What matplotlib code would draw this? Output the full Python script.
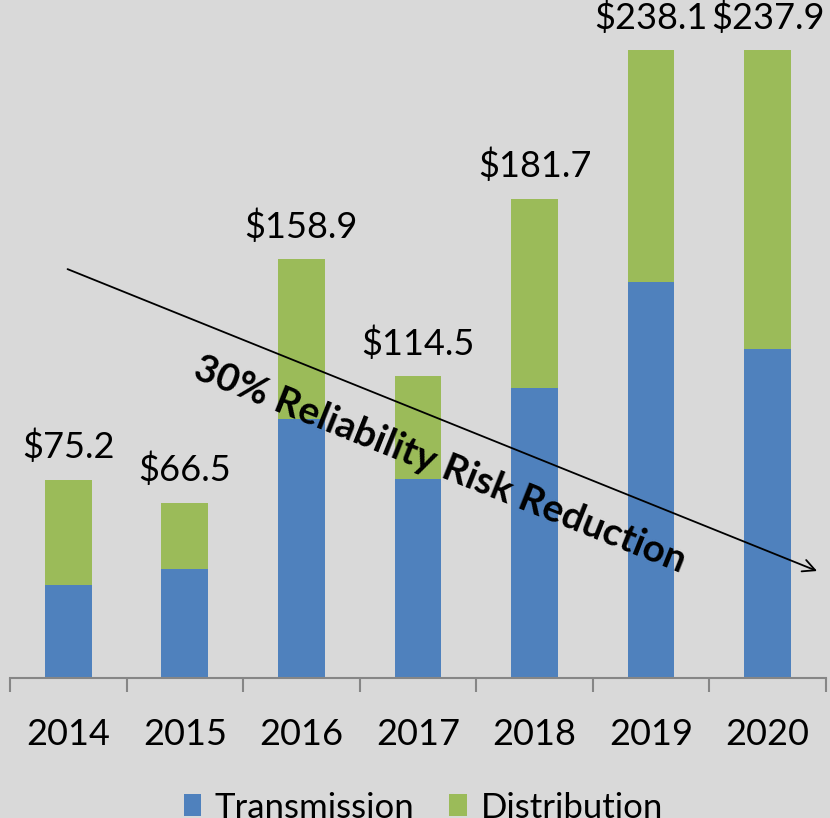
import matplotlib.pyplot as plt
import numpy as np

years = ["2014", "2015", "2016", "2017", "2018", "2019", "2020"]
totals = [75.2, 66.5, 158.9, 114.5, 181.7, 238.1, 237.9]
transmission = [35.3, 41.3, 98.2, 75.4, 109.9, 150.1, 124.7]
distribution = [t - tr for t, tr in zip(totals, transmission)]

BLUE = "#4f81bd"
GREEN = "#9bbb59"
BG = "#d9d9d9"

plt.rcParams["font.family"] = ["Lato", "DejaVu Sans"]

fig = plt.figure(figsize=(8.3, 8.18), dpi=100, facecolor=BG)
ax = fig.add_axes([0.012, 0.171, 0.983, 0.829])
ax.set_facecolor(BG)

x = np.arange(len(years))
ax.bar(x, transmission, width=0.4, color=BLUE, label="Transmission")
ax.bar(x, distribution, width=0.4, bottom=transmission, color=GREEN, label="Distribution")

for xi, tot in zip(x, totals):
    ax.annotate(f"${tot:.1f}", (xi, tot), xytext=(0, 11), textcoords="offset points",
                ha="center", va="bottom", fontsize=26)

ax.set_xlim(-0.5, 6.5)
ax.set_ylim(0, 257)

for side in ["left", "right", "top"]:
    ax.spines[side].set_visible(False)
ax.spines["bottom"].set_color("#868686")
ax.spines["bottom"].set_linewidth(1.5)
ax.set_yticks([])

# boundaries get the tick marks, centres get the year labels
ax.set_xticks(np.arange(-0.5, 7, 1.0))
ax.set_xticklabels([])
ax.tick_params(axis="x", which="major", direction="out", length=10, width=1.5, color="#868686")
ax.set_xticks(x, minor=True)
ax.set_xticklabels(years, minor=True, fontsize=26)
ax.tick_params(axis="x", which="minor", length=0, pad=29)

ax.annotate("", xy=(6.447, 40.2), xytext=(-0.028, 155.4),
            arrowprops=dict(arrowstyle="->", color="black", lw=1.3, mutation_scale=22),
            annotation_clip=False)
ax.text(3.19, 81, "30% Reliability Risk Reduction", rotation=-21.8, rotation_mode="anchor",
        ha="center", va="center", fontsize=28, fontweight="bold")

fig.legend(loc="lower center", bbox_to_anchor=(0.51, -0.045), ncol=2, frameon=False,
           fontsize=25, handlelength=0.5, handleheight=0.6, handletextpad=0.4, columnspacing=1.0)

fig.savefig("out.png", dpi=100, facecolor=BG)
